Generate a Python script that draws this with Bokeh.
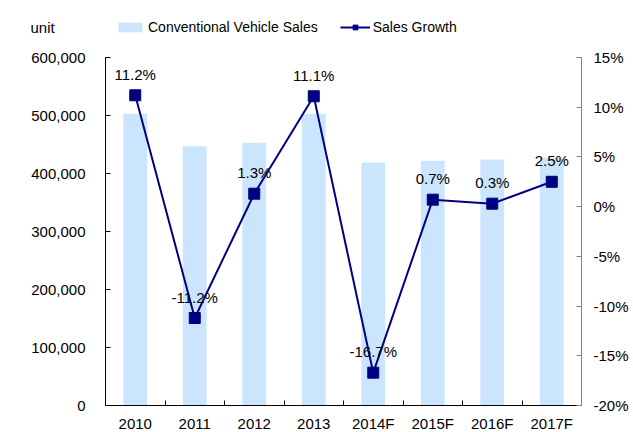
from bokeh.plotting import figure
from bokeh.models import (ColumnDataSource, Range1d, LinearAxis, FixedTicker,
                          NumeralTickFormatter, Legend, LegendItem, Label)
from bokeh.core.properties import value
from bokeh.embed import file_html
from bokeh.resources import INLINE

years = ["2010", "2011", "2012", "2013", "2014F", "2015F", "2016F", "2017F"]
sales = [503000, 447000, 453000, 503000, 419000, 422000, 424000, 427000]
growth = [11.2, -11.2, 1.3, 11.1, -16.7, 0.7, 0.3, 2.5]
growth_labels = ["11.2%", "-11.2%", "1.3%", "11.1%", "-16.7%", "0.7%", "0.3%", "2.5%"]
left_ticks = [0, 100000, 200000, 300000, 400000, 500000, 600000]
right_ticks = [-0.20, -0.15, -0.10, -0.05, 0.0, 0.05, 0.10, 0.15]

FONT = "Liberation Sans"
FS = "15px"

# layout (pixels): canvas and the plotting rectangle inside it
W, H = 630, 430
PL, PR, PT, PB = 105, 581, 57, 405

n = len(years)
xc = [i + 0.5 for i in range(n)]
src = ColumnDataSource(dict(x=xc, sales=sales, g=[v / 100 for v in growth], lab=growth_labels))

def ext(lo, hi, p_lo, p_hi, total, inverted=False):
    per = (hi - lo) / (p_hi - p_lo)
    if not inverted:
        return lo - p_lo * per, hi + (total - p_hi) * per
    return lo - (total - p_hi) * per, hi + p_lo * per

x0, x1 = ext(0, n, PL, PR, W)
y0, y1 = ext(left_ticks[0], left_ticks[-1], PT, PB, H, inverted=True)
r0, r1 = ext(right_ticks[0], right_ticks[-1], PT, PB, H, inverted=True)

p = figure(x_range=Range1d(x0, x1), y_range=Range1d(y0, y1), width=W, height=H,
           output_backend="svg", toolbar_location=None, x_axis_location=None,
           y_axis_location=None, min_border=0)
p.extra_y_ranges = {"pct": Range1d(r0, r1)}
p.outline_line_color = None
p.xgrid.visible = False
p.ygrid.visible = False
p.background_fill_color = "white"
p.border_fill_color = "white"

# left axis
la = LinearAxis(ticker=FixedTicker(ticks=left_ticks), formatter=NumeralTickFormatter(format="0,0"),
                fixed_location=0, bounds=(left_ticks[0], left_ticks[-1]))
la.major_tick_in = 5
la.major_tick_out = 0
la.minor_tick_line_color = None
la.axis_line_color = "black"
la.major_tick_line_color = "black"
la.major_label_standoff = 20
la.major_label_text_font = FONT
la.major_label_text_font_size = FS
la.major_label_text_color = "black"
p.add_layout(la, "left")

# right axis
ra = LinearAxis(y_range_name="pct", ticker=FixedTicker(ticks=right_ticks),
                formatter=NumeralTickFormatter(format="0%"), fixed_location=n,
                bounds=(right_ticks[0], right_ticks[-1]))
ra.major_tick_in = 5
ra.major_tick_out = 0
ra.minor_tick_line_color = None
ra.axis_line_color = "#808080"
ra.major_tick_line_color = "#808080"
ra.major_label_standoff = 12
ra.major_label_text_font = FONT
ra.major_label_text_font_size = FS
ra.major_label_text_color = "black"
p.add_layout(ra, "right")

# bottom axis: labels at category centres, minor ticks at category edges
ca = LinearAxis(ticker=FixedTicker(ticks=xc, minor_ticks=list(range(0, n + 1))),
                fixed_location=0, bounds=(0, n),
                major_label_overrides={x: y for x, y in zip(xc, years)})
ca.axis_line_color = "black"
ca.major_tick_line_color = None
ca.major_tick_out = 0
ca.major_tick_in = 0
ca.minor_tick_line_color = "black"
ca.minor_tick_in = 5
ca.minor_tick_out = 0
ca.major_label_standoff = 9
ca.major_label_text_font = FONT
ca.major_label_text_font_size = FS
ca.major_label_text_color = "black"
p.add_layout(ca, "below")

bars = p.vbar(x="x", top="sales", width=0.4, source=src, fill_color="#CCE5FF", line_color=None)
ln = p.line(x="x", y="g", source=src, y_range_name="pct", line_color="#000080", line_width=2)
mk = p.scatter(x="x", y="g", source=src, y_range_name="pct", marker="square", size=11,
               fill_color="#000080", line_color="#000080")
p.text(x="x", y="g", text="lab", source=src, y_range_name="pct", y_offset=-21,
       text_align="center", text_baseline="middle", text_font=value(FONT),
       text_font_size=FS, text_color="black")

legend = Legend(items=[LegendItem(label="Conventional Vehicle Sales", renderers=[bars]),
                       LegendItem(label="Sales Growth", renderers=[ln, mk])],
                orientation="horizontal", location=(115, H - 37), padding=0, margin=0,
                spacing=22, glyph_width=30, glyph_height=12, label_standoff=3,
                label_text_font=FONT, label_text_font_size="14px", label_text_color="black",
                background_fill_alpha=0, border_line_color=None, label_height=20)
p.add_layout(legend, "center")

p.add_layout(Label(x=30, y=H - 27, x_units="screen", y_units="screen", text="unit",
                   text_font=FONT, text_font_size=FS, text_baseline="middle", text_color="black"))

open("out.html", "w").write(file_html(p, INLINE))
